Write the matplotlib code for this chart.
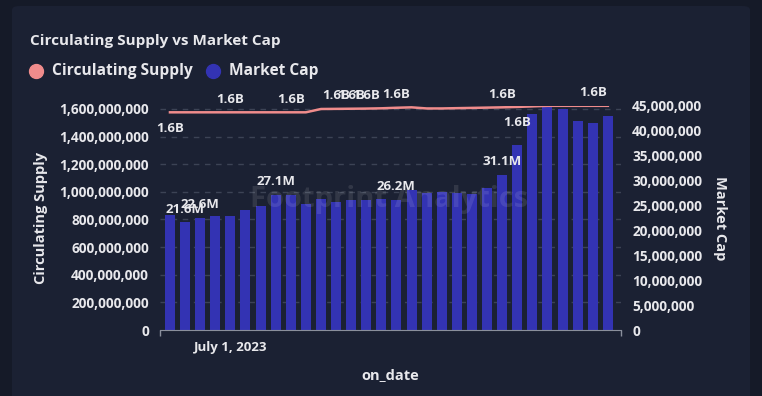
import matplotlib
matplotlib.use("Agg")
import matplotlib.pyplot as plt
import matplotlib.dates as mdates
from matplotlib.patches import FancyBboxPatch
from matplotlib.ticker import FuncFormatter
import pandas as pd
import numpy as np

plt.rcParams['font.family'] = ['Open Sans', 'DejaVu Sans']
plt.rcParams['font.weight'] = 'bold'
plt.rcParams['axes.labelweight'] = 'bold'

# data
dates = pd.date_range("2023-06-27", periods=30, freq="D")
circ_supply = [1.576e9] * 10 + [1.600e9, 1.601e9, 1.602e9, 1.603e9, 1.605e9,
                                1.609e9, 1.612e9, 1.604e9, 1.604e9, 1.606e9,
                                1.608e9, 1.610e9, 1.612e9, 1.615e9, 1.619e9,
                                1.623e9, 1.623e9, 1.623e9, 1.623e9, 1.623e9]
market_cap = [23.2e6, 21.6e6, 22.6e6, 23.0e6, 23.0e6, 24.1e6, 25.0e6, 27.1e6,
              27.1e6, 25.4e6, 26.3e6, 25.8e6, 26.1e6, 26.1e6, 26.3e6, 26.2e6,
              28.1e6, 27.6e6, 27.8e6, 27.6e6, 27.3e6, 28.5e6, 31.1e6, 37.1e6,
              43.3e6, 44.9e6, 44.4e6, 41.9e6, 41.5e6, 43.0e6]

# which points carry value labels (index, above?)
supply_labels = [(0, False), (4, True), (8, True), (11, True), (12, True),
                 (13, True), (15, True), (22, True), (23, False), (28, True)]
cap_labels = [1, 2, 7, 15, 22]

bg_outer = "#151a28"
bg_card = "#1b2133"
txt = "#e8e8ec"
bar_c = "#3333b3"
line_c = "#f08c8c"

fig = plt.figure(figsize=(7.62, 3.96), dpi=100, facecolor=bg_outer)
card = FancyBboxPatch((12 / 762, -0.1), 738 / 762, 1.1 - 6 / 396,
                      boxstyle="round,pad=0,rounding_size=0.01",
                      transform=fig.transFigure, facecolor=bg_card,
                      edgecolor="none", zorder=0)
fig.patches.append(card)

ax = fig.add_axes([160 / 762, 1 - 330 / 396, 461 / 762, 224 / 396])
ax2 = ax.twinx()
ax.set_zorder(2)
ax.patch.set_visible(False)
ax2.set_zorder(1)
ax2.patch.set_visible(False)

x0 = mdates.date2num(dates[0])
ax.set_xlim(x0 - 0.66, x0 + 29.87)
ax.set_ylim(0, 1.6217e9)
ax2.set_ylim(0, 45e6)

# bars (market cap) on the right axis
ax2.bar(dates, market_cap, width=0.66, color=bar_c, zorder=3)
# grid from the left axis ticks, drawn behind the bars
left_ticks = np.arange(0, 1.7e9, 2e8)
ax2.hlines(left_ticks[1:], 0, 1, transform=ax.get_yaxis_transform(),
           colors="#3c4355", linestyles=(0, (4, 4)), linewidth=1, zorder=1)

# line (circulating supply) on the left axis
ax.plot(dates, circ_supply, color=line_c, linewidth=1.8, zorder=4)

for i, above in supply_labels:
    ax.annotate("1.6B", (dates[i], circ_supply[i]),
                xytext=(0, 9.5 if above else -11.5), textcoords="offset points",
                ha="center", va="center", color=txt, fontsize=9.5, zorder=6)
for i in cap_labels:
    ax2.annotate(f"{market_cap[i] / 1e6:.1f}M", (dates[i], market_cap[i]),
                 xytext=(0, 9.5), textcoords="offset points",
                 ha="center", va="center", color=txt, fontsize=9.5, zorder=6)

comma = FuncFormatter(lambda v, p: f"{v:,.0f}")
ax.set_yticks(left_ticks)
ax.yaxis.set_major_formatter(comma)
ax2.set_yticks(np.arange(0, 46e6, 5e6))
ax2.yaxis.set_major_formatter(comma)

ax.xaxis.set_major_locator(mdates.MonthLocator())
ax.xaxis.set_major_formatter(FuncFormatter(
    lambda v, p: mdates.num2date(v).strftime("%B %-d, %Y")))
ax.set_xticks([x0 - 0.66, x0 + 29.87], minor=True)
ax.tick_params(axis="x", which="major", length=0, pad=8, colors=txt, labelsize=9.5)
ax.tick_params(axis="x", which="minor", length=4, color="#8a8f9c", width=1)
ax.tick_params(axis="y", length=0, pad=8, colors=txt, labelsize=9.8)
ax2.tick_params(axis="y", length=0, pad=8, colors=txt, labelsize=9.8)

for a in (ax, ax2):
    for s in ("left", "right", "top"):
        a.spines[s].set_visible(False)
    a.spines["bottom"].set_color("#8a8f9c")
ax2.spines["bottom"].set_visible(False)

ax.set_ylabel("Circulating Supply", color=txt, fontsize=10.5, labelpad=8)
ax2.set_ylabel("Market Cap", color=txt, fontsize=10.5, rotation=270, labelpad=18)
ax.set_xlabel("on_date", color=txt, fontsize=10.5, labelpad=10)

# watermark
fig.text(0.51, 0.497, "Footprint Analytics", color="#ffffff", alpha=0.1,
         fontsize=21, ha="center", va="center", zorder=10)

fig.text(30 / 762, 1 - 41 / 396, "Circulating Supply vs Market Cap",
         color=txt, fontsize=11, ha="left", va="center")
fig.text(52 / 762, 1 - 71 / 396, "Circulating Supply", color=txt,
         fontsize=11.2, ha="left", va="center")
fig.text(229 / 762, 1 - 71 / 396, "Market Cap", color=txt,
         fontsize=11.2, ha="left", va="center")
fig.lines.append(plt.Line2D([36 / 762], [1 - 71 / 396], marker="o",
                            markersize=10, color=line_c, linestyle="none",
                            transform=fig.transFigure))
fig.lines.append(plt.Line2D([213 / 762], [1 - 71 / 396], marker="o",
                            markersize=10, color=bar_c, linestyle="none",
                            transform=fig.transFigure))

fig.savefig("out.png", dpi=100, facecolor=bg_outer)
